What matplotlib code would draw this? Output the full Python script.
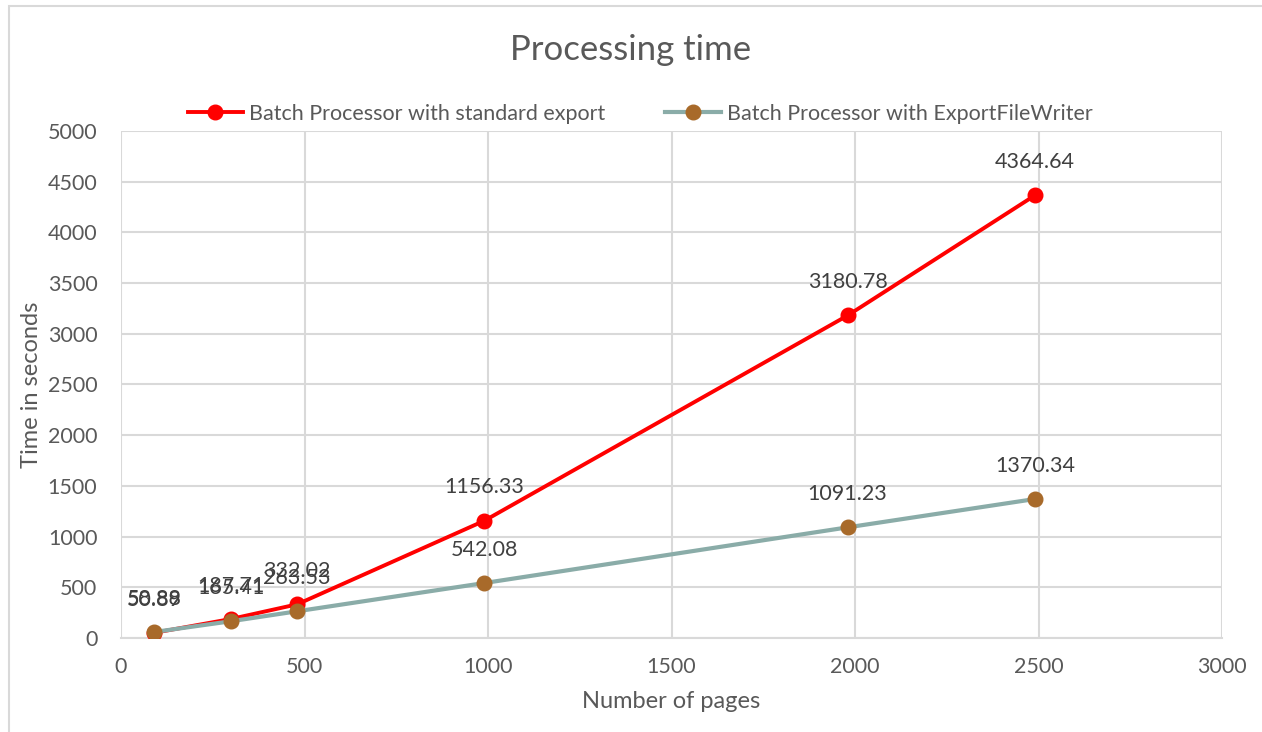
import matplotlib
matplotlib.use('Agg')
import matplotlib.pyplot as plt
from matplotlib.patches import Rectangle

plt.rcParams['font.family'] = ['Lato', 'DejaVu Sans']

pages = [90, 300, 480, 990, 1980, 2490]
standard_export = [50.89, 187.71, 332.02, 1156.33, 3180.78, 4364.64]
file_writer = [58.88, 165.41, 263.53, 542.08, 1091.23, 1370.34]

red = '#ff0000'
teal = '#8aaca8'
brown = '#a86a2a'
text_col = '#595959'
label_col = '#404040'
grid_col = '#d9d9d9'

fig = plt.figure(figsize=(12.62, 7.32), dpi=100)
ax = fig.add_axes([121 / 1262, 1 - 638 / 732, (1222 - 121) / 1262, (638 - 131) / 732])

# outer chart border
fig.patches.append(Rectangle((9 / 1262, -0.01), 1.0, 1 - 6 / 732 + 0.01,
                             transform=fig.transFigure, fill=False,
                             edgecolor=grid_col, lw=1.5))

ax.plot(pages, standard_export, color=red, lw=2.8, marker='o', ms=10.5,
        markerfacecolor=red, markeredgecolor=red,
        label='Batch Processor with standard export', zorder=3)
ax.plot(pages, file_writer, color=teal, lw=3, marker='o', ms=10.5,
        markerfacecolor=brown, markeredgecolor=brown,
        label='Batch Processor with ExportFileWriter', zorder=4)

for xs, ys in [(pages, standard_export), (pages, file_writer)]:
    for x, y in zip(xs, ys):
        ax.annotate(f'{y:.2f}', (x, y), xytext=(0, 24), textcoords='offset points',
                    ha='center', va='center', fontsize=15.5, color=label_col, zorder=5)

ax.set_xlim(0, 3000)
ax.set_ylim(0, 5000)
ax.set_xticks(range(0, 3001, 500))
ax.set_yticks(range(0, 5001, 500))
ax.grid(True, color=grid_col, lw=1.5)
ax.set_axisbelow(True)
ax.tick_params(length=0, labelsize=15.5, colors=text_col)
ax.tick_params(axis='x', pad=14)
ax.tick_params(axis='y', pad=17)
for s in ax.spines.values():
    s.set_visible(False)
ax.spines['bottom'].set_visible(True)
ax.spines['bottom'].set_color(grid_col)
ax.spines['bottom'].set_linewidth(1.5)

ax.set_xlabel('Number of pages', fontsize=17, color=text_col, labelpad=10)
ax.set_ylabel('Time in seconds', fontsize=17, color=text_col, labelpad=4)

fig.text(0.5, 1 - 50 / 732, 'Processing time', ha='center', va='center',
         fontsize=25, color=text_col)
fig.legend(*ax.get_legend_handles_labels(), loc='center',
           bbox_to_anchor=(640 / 1262, 1 - 114 / 732),
           ncol=2, frameon=False, fontsize=15.5, labelcolor=text_col,
           handlelength=2.6, columnspacing=2.8, handletextpad=0.25)

fig.savefig('out.png', dpi=100)
